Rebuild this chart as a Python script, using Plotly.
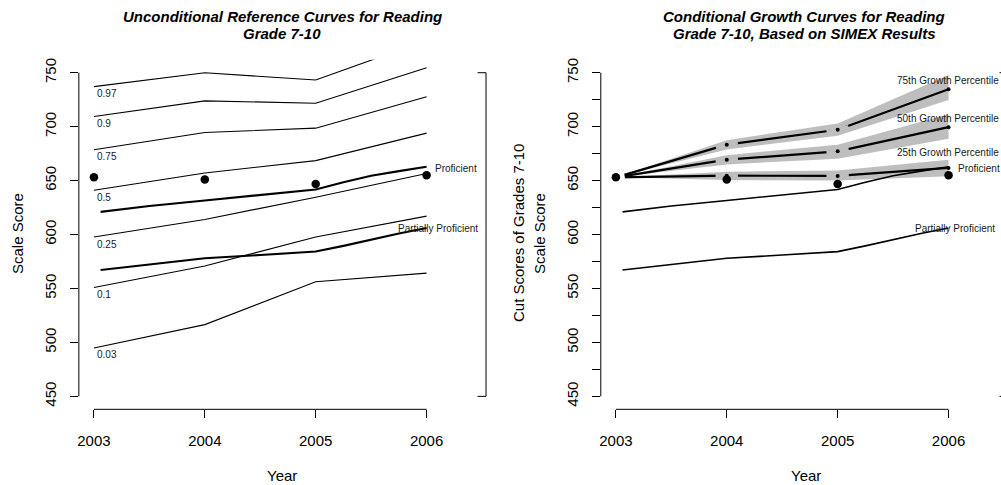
import math
import plotly.graph_objects as go

# ---- data ---------------------------------------------------------------
YEARS = [2003, 2004, 2005, 2006]

PCT_LABELS = ["0.97", "0.9", "0.75", "0.5", "0.25", "0.1", "0.03"]
PCT_CURVES = [
    [737.1, 750.0, 743.2, 780.0],
    [709.4, 723.9, 721.7, 754.6],
    [678.6, 694.6, 698.6, 727.8],
    [641.1, 657.1, 668.5, 694.0],
    [597.7, 614.0, 634.6, 656.5],
    [550.9, 570.9, 597.7, 617.1],
    [494.9, 516.5, 556.2, 564.2],
]

CUT_YEARS = [2003.06, 2003.5, 2004, 2004.5, 2005, 2005.25, 2005.5, 2005.75, 2006]
PROFICIENT = [621.0, 626.5, 631.6, 636.5, 641.7, 648.5, 654.5, 658.8, 662.8]
PARTIAL = [567.2, 572.5, 578.0, 581.0, 584.2, 589.5, 595.5, 601.0, 606.0]

STUDENT = [653.0, 651.0, 646.9, 654.9]

GROWTH_LABELS = ["75th Growth Percentile", "50th Growth Percentile", "25th Growth Percentile"]
GROWTH_MID = [
    [653.0, 683.3, 697.1, 734.6],
    [653.0, 669.4, 677.1, 699.5],
    [653.0, 654.6, 654.3, 661.7],
]
GROWTH_LO = [
    [653.0, 678.9, 691.6, 724.8],
    [653.0, 665.0, 670.3, 688.8],
    [653.0, 650.5, 650.0, 654.0],
]
GROWTH_HI = [
    [653.0, 687.5, 702.9, 747.8],
    [653.0, 673.6, 683.3, 711.5],
    [653.0, 658.2, 659.3, 669.4],
]
GROWTH_LABEL_LIFT = [8.7, 8.4, 15.0]

Y_TICKS = list(range(450, 751, 50))
Y_TICKS_FINE = list(range(450, 751, 25))

# ---- page geometry (pixels) ---------------------------------------------
W, H = 1001, 485
PLOT_TOP, PLOT_BOTTOM = 58, 409
L_LEFT, L_RIGHT = 77, 485
R_LEFT, R_RIGHT = 600, 1001
X_RANGE_L = [2002.864, 2006.536]
X_RANGE_R = [2002.864, 2002.864 + (X_RANGE_L[1] - X_RANGE_L[0]) * (R_RIGHT - R_LEFT) / (L_RIGHT - L_LEFT)]
Y_RANGE = [438, 762]
PX_PER_YEAR = (L_RIGHT - L_LEFT) / (X_RANGE_L[1] - X_RANGE_L[0])
PX_PER_UNIT = (PLOT_BOTTOM - PLOT_TOP) / (Y_RANGE[1] - Y_RANGE[0])

FONT = "Liberation Sans, Arial, Helvetica, sans-serif"
BAND = "#BEBEBE"
INK = "#000000"


def px_x(p):
    return p / W


def px_y(p):
    return 1 - p / H


fig = go.Figure()

# ---- left panel: unconditional percentile curves -----------------------
for curve in PCT_CURVES:
    fig.add_trace(go.Scatter(x=YEARS, y=curve, mode="lines",
                             line=dict(color=INK, width=1.1),
                             xaxis="x", yaxis="y", hoverinfo="skip"))
for cut in (PROFICIENT, PARTIAL):
    fig.add_trace(go.Scatter(x=CUT_YEARS, y=cut, mode="lines",
                             line=dict(color=INK, width=2.1),
                             xaxis="x", yaxis="y", hoverinfo="skip"))
fig.add_trace(go.Scatter(x=YEARS, y=STUDENT, mode="markers",
                         marker=dict(color=INK, size=8.5),
                         xaxis="x", yaxis="y", hoverinfo="skip"))

# ---- right panel: conditional growth curves with bands ------------------
for lo, hi in zip(GROWTH_LO, GROWTH_HI):
    fig.add_trace(go.Scatter(x=YEARS + YEARS[::-1], y=hi + lo[::-1],
                             mode="lines", fill="toself", fillcolor=BAND,
                             line=dict(width=0, color=BAND),
                             xaxis="x2", yaxis="y2", hoverinfo="skip"))
for cut in (PROFICIENT, PARTIAL):
    fig.add_trace(go.Scatter(x=CUT_YEARS, y=cut, mode="lines",
                             line=dict(color=INK, width=1.6),
                             xaxis="x2", yaxis="y2", hoverinfo="skip"))
for mid in GROWTH_MID:
    fig.add_trace(go.Scatter(x=YEARS, y=mid, mode="lines",
                             line=dict(color=INK, width=2.2),
                             xaxis="x2", yaxis="y2", hoverinfo="skip"))

# gaps around the interior points (line-and-point style)
for mid in GROWTH_MID:
    angles = []
    for i in (1, 2):
        a1 = math.atan((mid[i] - mid[i - 1]) * PX_PER_UNIT / ((YEARS[i] - YEARS[i - 1]) * PX_PER_YEAR))
        a2 = math.atan((mid[i + 1] - mid[i]) * PX_PER_UNIT / ((YEARS[i + 1] - YEARS[i]) * PX_PER_YEAR))
        angles.append(-math.degrees((a1 + a2) / 2))
    fig.add_trace(go.Scatter(x=YEARS[1:3], y=mid[1:3], mode="markers",
                             marker=dict(symbol="line-ew", size=16, angle=angles,
                                         line=dict(color=BAND, width=4.5)),
                             xaxis="x2", yaxis="y2", hoverinfo="skip"))
    fig.add_trace(go.Scatter(x=YEARS[1:], y=mid[1:], mode="markers",
                             marker=dict(color=INK, size=4),
                             xaxis="x2", yaxis="y2", hoverinfo="skip"))

# gap where the growth curves leave the starting score
fig.add_trace(go.Scatter(x=YEARS[:1], y=STUDENT[:1], mode="markers",
                         marker=dict(color="white", size=18),
                         xaxis="x2", yaxis="y2", hoverinfo="skip"))
fig.add_trace(go.Scatter(x=YEARS, y=STUDENT, mode="markers",
                         marker=dict(color=INK, size=8.5),
                         xaxis="x2", yaxis="y2", hoverinfo="skip"))

# ---- annotations ---------------------------------------------------------
ann = []
small = dict(family=FONT, size=10, color="#1a1a1a")
for lab, curve in zip(PCT_LABELS, PCT_CURVES):
    ann.append(dict(x=YEARS[0], y=curve[0], xref="x", yref="y", text=lab,
                    showarrow=False, xanchor="left", yanchor="middle",
                    xshift=1, yshift=-7, font=small))
ann.append(dict(x=CUT_YEARS[-1], y=PROFICIENT[-1], xref="x", yref="y", text="Proficient",
                showarrow=False, xanchor="left", yanchor="middle", xshift=6, yshift=-2, font=small))
ann.append(dict(x=CUT_YEARS[-1], y=PARTIAL[-1], xref="x", yref="y", text="Partially Proficient",
                showarrow=False, xanchor="center", yanchor="middle", xshift=11, yshift=-0.5, font=small))
ann.append(dict(x=CUT_YEARS[-1], y=PROFICIENT[-1], xref="x2", yref="y2", text="Proficient",
                showarrow=False, xanchor="left", yanchor="middle", xshift=7, yshift=-2, font=small))
ann.append(dict(x=CUT_YEARS[-1], y=PARTIAL[-1], xref="x2", yref="y2", text="Partially Proficient",
                showarrow=False, xanchor="center", yanchor="middle", xshift=6, yshift=-0.5, font=small))
for lab, mid, lift in zip(GROWTH_LABELS, GROWTH_MID, GROWTH_LABEL_LIFT):
    ann.append(dict(x=YEARS[-1], y=mid[-1], xref="x2", yref="y2", text=lab,
                    showarrow=False, xanchor="center", yanchor="middle", xshift=-1, yshift=lift, font=small))

title_font = dict(family=FONT, size=15, color=INK)
for cx, lines in ((281, ["Unconditional Reference Curves for Reading", "Grade 7-10"]),
                  (804, ["Conditional Growth Curves for Reading", "Grade 7-10, Based on SIMEX Results"])):
    for cy, line in zip((15, 32), lines):
        ann.append(dict(x=px_x(cx), y=px_y(cy), xref="paper", yref="paper",
                        text="<b><i>" + line + "</i></b>", showarrow=False,
                        xanchor="center", yanchor="middle", font=title_font))

label_font = dict(family=FONT, size=15, color=INK)
for cx, txt in ((281, "Year"), (806, "Year")):
    ann.append(dict(x=px_x(cx), y=px_y(475), xref="paper", yref="paper", text=txt,
                    showarrow=False, xanchor="center", yanchor="middle", font=label_font))
for cx, txt in ((15, "Scale Score"), (517, "Cut Scores of Grades 7-10"), (538, "Scale Score")):
    ann.append(dict(x=px_x(cx), y=px_y(232), xref="paper", yref="paper", text=txt,
                    textangle=-90, showarrow=False, xanchor="center", yanchor="middle", font=label_font))

# ---- axis lines and side brackets ---------------------------------------
line = dict(color=INK, width=1)
shapes = []
for xl, xa, ya in ((L_LEFT, "x", "y"), (R_LEFT, "x2", "y2")):
    shapes.append(dict(type="line", xref="paper", yref=ya, x0=px_x(xl), x1=px_x(xl),
                       y0=Y_TICKS[0], y1=Y_TICKS[-1], line=line))
    shapes.append(dict(type="line", xref=xa, yref="paper", x0=YEARS[0], x1=YEARS[-1],
                       y0=px_y(PLOT_BOTTOM), y1=px_y(PLOT_BOTTOM), line=line))
shapes.append(dict(type="line", xref="paper", yref="y", x0=px_x(L_RIGHT), x1=px_x(L_RIGHT),
                   y0=Y_TICKS[0], y1=Y_TICKS[-1], line=line))
for yv in (Y_TICKS[0], Y_TICKS[-1]):
    shapes.append(dict(type="line", xref="paper", yref="y", x0=px_x(L_RIGHT - 8.5), x1=px_x(L_RIGHT),
                       y0=yv, y1=yv, line=line))
    shapes.append(dict(type="line", xref="paper", yref="y2", x0=px_x(999.5), x1=1.0,
                       y0=yv, y1=yv, line=line))

tick_font = dict(family=FONT, size=15, color=INK)
xcommon = dict(tickvals=YEARS, ticktext=[str(y) for y in YEARS], ticks="outside", ticklen=8,
               tickwidth=1, tickcolor=INK, showline=False, showgrid=False, zeroline=False,
               tickfont=tick_font, ticklabelstandoff=10, fixedrange=True)
ycommon = dict(range=Y_RANGE, ticks="outside", ticklen=8, tickwidth=1, tickcolor=INK,
               showline=False, showgrid=False, zeroline=False, tickangle=-90,
               tickfont=tick_font, ticklabelstandoff=8, fixedrange=True,
               domain=[px_y(PLOT_BOTTOM), px_y(PLOT_TOP)])

fig.update_layout(
    width=W, height=H, margin=dict(l=0, r=0, t=0, b=0),
    paper_bgcolor="white", plot_bgcolor="white", showlegend=False,
    font=dict(family=FONT, color=INK),
    xaxis=dict(xcommon, range=X_RANGE_L, domain=[px_x(L_LEFT), px_x(L_RIGHT)], anchor="y"),
    yaxis=dict(ycommon, tickvals=Y_TICKS, ticktext=[str(v) for v in Y_TICKS], anchor="x"),
    xaxis2=dict(xcommon, range=X_RANGE_R, domain=[px_x(R_LEFT), 1.0], anchor="y2"),
    yaxis2=dict(ycommon, tickvals=Y_TICKS_FINE,
                ticktext=[str(v) if v % 50 == 0 else "" for v in Y_TICKS_FINE], anchor="x2"),
    annotations=ann, shapes=shapes,
)

fig.write_html("out.html")
